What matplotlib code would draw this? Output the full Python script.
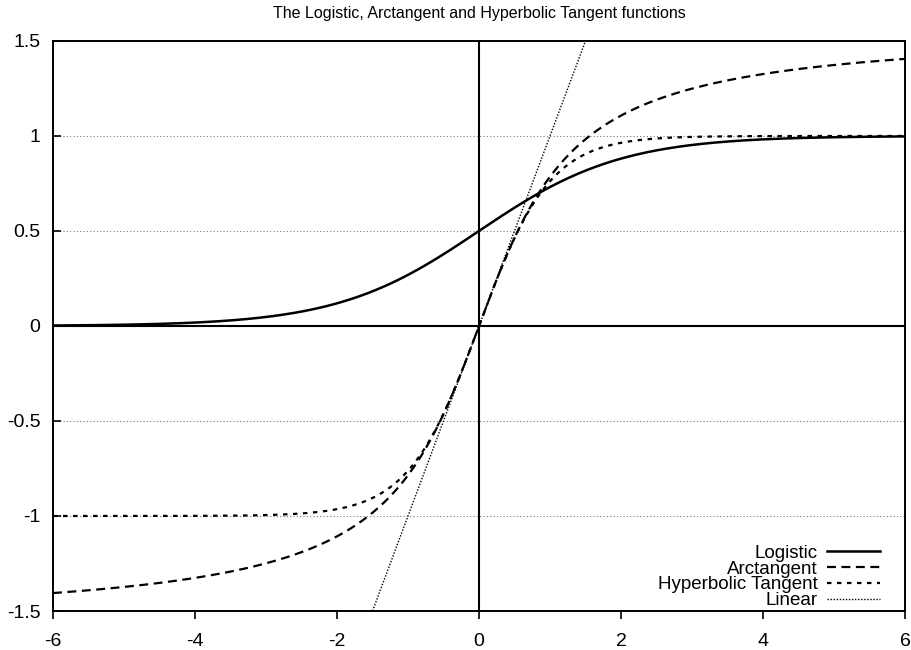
import numpy as np
import matplotlib
matplotlib.use("Agg")
import matplotlib.pyplot as plt

plt.rcParams['font.family'] = ['Liberation Sans', 'DejaVu Sans']

# the chart shows named functions, sampled over the x range
x = np.linspace(-6, 6, 601)
names = ["Logistic", "Arctangent", "Hyperbolic Tangent", "Linear"]
logistic = 1.0 / (1.0 + np.exp(-x))
arctangent = np.arctan(x)
hyptan = np.tanh(x)
linear = x.copy()

xticks = [-6, -4, -2, 0, 2, 4, 6]
yticks = [-1.5, -1, -0.5, 0, 0.5, 1, 1.5]
ytick_labels = ["-1.5", "-1", "-0.5", "0", "0.5", "1", "1.5"]

fig = plt.figure(figsize=(9.11, 6.5), dpi=100)
ax = fig.add_axes([0.0582, 0.06, 0.9352, 0.877])

# grid lines at the inner y ticks
for yy in [-1, -0.5, 0.5, 1]:
    ax.axhline(yy, color="#777777", lw=0.8, ls=(0, (1, 2)), zorder=1)
ax.axhline(0, color="black", lw=1.5, zorder=2)
ax.axvline(0, color="black", lw=1.5, zorder=2)

ax.plot(x, logistic, color="black", lw=1.8, ls="-", label=names[0], zorder=3)
ax.plot(x, arctangent, color="black", lw=1.6, ls=(0, (4, 2.5)), label=names[1], zorder=3)
ax.plot(x, hyptan, color="black", lw=1.6, ls=(0, (2, 2.5)), label=names[2], zorder=3)
ax.plot(x, linear, color="black", lw=1.0, ls=(0, (1, 1.2)), label=names[3], zorder=3)

ax.set_xlim(-6, 6)
ax.set_ylim(-1.5, 1.5)
ax.set_xticks(xticks)
ax.set_xticklabels([str(t) for t in xticks])
ax.set_yticks(yticks)
ax.set_yticklabels(ytick_labels)
ax.tick_params(axis="y", direction="in", length=6, width=1.2, labelsize=14, pad=9)
ax.tick_params(axis="x", direction="out", length=6, width=1.2, labelsize=14, pad=10)
for s in ax.spines.values():
    s.set_linewidth(1.4)

ax.set_title("The Logistic, Arctangent and Hyperbolic Tangent functions",
             fontsize=11.5, pad=16.5)

leg = ax.legend(loc="lower right", frameon=False, markerfirst=False,
                fontsize=13.5, handlelength=2.8, handletextpad=0.5,
                labelspacing=-0.07, borderaxespad=0.0,
                bbox_to_anchor=(0.979, -0.01))
for t in leg.get_texts():
    t.set_ha("right")
leg._legend_box.align = "right"

fig.savefig("out.png", dpi=100)
